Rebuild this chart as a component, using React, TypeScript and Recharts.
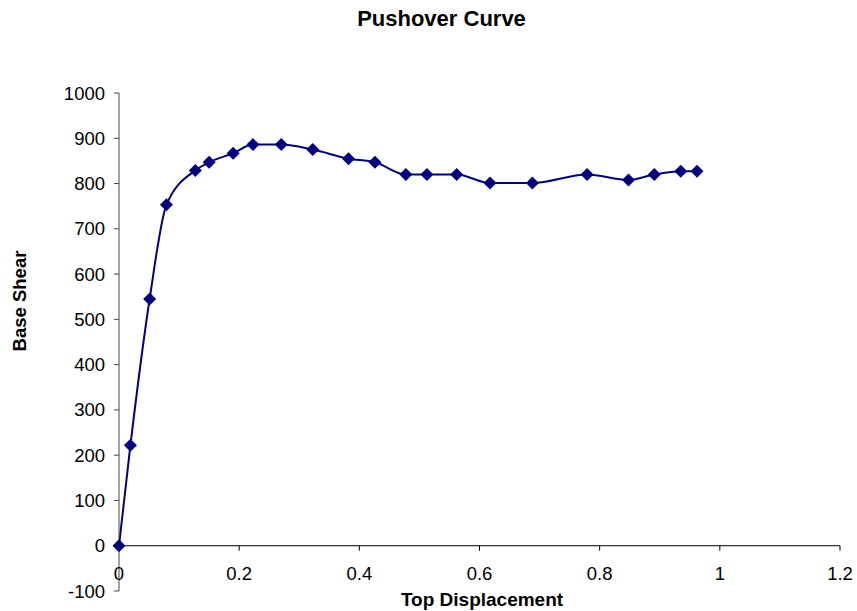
import { LineChart, Line, XAxis, YAxis, ReferenceLine, ReferenceDot } from "recharts";

const displacement = [
  0, 0.019, 0.051, 0.079, 0.127, 0.15, 0.19, 0.223, 0.27, 0.3225, 0.382, 0.426,
  0.4775, 0.5125, 0.562, 0.6175, 0.688, 0.779, 0.848, 0.891, 0.935, 0.962,
];
const baseShear = [
  0, 222, 545, 753, 829, 847, 867, 886, 886, 875, 855, 847, 820, 820, 820, 801,
  801, 820, 808, 820, 827, 827,
];
const xTicks = [0, 0.2, 0.4, 0.6, 0.8, 1, 1.2];
const yTicks = [-100, 0, 100, 200, 300, 400, 500, 600, 700, 800, 900, 1000];

const data = displacement.map((x, i) => ({ x, y: baseShear[i] }));

const FONT = "Arial, 'Liberation Sans', sans-serif";
const NAVY = "#000080";

// diamond marker like Excel
const Diamond = (props: any) => {
  const { cx, cy } = props;
  if (cx == null || cy == null) return null;
  const s = 6.5;
  return (
    <polygon
      points={`${cx},${cy - s} ${cx + s},${cy} ${cx},${cy + s} ${cx - s},${cy}`}
      fill={NAVY}
    />
  );
};

// x axis sits on y=0, so ticks are drawn at (tick, 0)
const XTick = (label: string) => (props: any) => {
  const { cx, cy } = props;
  return (
    <g>
      <line x1={cx} y1={cy} x2={cx} y2={cy + 5} stroke="#000" strokeWidth={1} />
      <text x={cx} y={cy + 34} textAnchor="middle" fontFamily={FONT} fontSize={18.5} fill="#000">
        {label}
      </text>
    </g>
  );
};

export default function App() {
  return (
    <div style={{ position: "absolute", left: 0, top: 0, width: 857, height: 611, background: "#fff" }}>
      <div
        style={{
          position: "absolute",
          left: 0,
          width: 883,
          top: 6,
          textAlign: "center",
          fontFamily: FONT,
          fontWeight: "bold",
          fontSize: 22,
        }}
      >
        Pushover Curve
      </div>
      <div
        style={{
          position: "absolute",
          left: 20,
          top: 301,
          transform: "translate(-50%, -50%) rotate(-90deg)",
          whiteSpace: "nowrap",
          fontFamily: FONT,
          fontWeight: "bold",
          fontSize: 18.5,
        }}
      >
        Base Shear
      </div>
      <div
        style={{
          position: "absolute",
          left: 482,
          top: 600,
          transform: "translate(-50%, -50%)",
          whiteSpace: "nowrap",
          fontFamily: FONT,
          fontWeight: "bold",
          fontSize: 19,
        }}
      >
        Top Displacement
      </div>
      <LineChart
        width={857}
        height={611}
        data={data}
        margin={{ top: 93, right: 17, bottom: 20, left: 0 }}
        style={{ position: "absolute", left: 0, top: 0 }}
      >
        <XAxis type="number" dataKey="x" domain={[0, 1.2]} ticks={xTicks} hide />
        <YAxis
          type="number"
          domain={[-100, 1000]}
          ticks={yTicks}
          width={119}
          interval={0}
          axisLine={{ stroke: "#444" }}
          tickLine={{ stroke: "#444" }}
          tickSize={5}
          tickMargin={9}
          tick={{ fontFamily: FONT, fontSize: 18.5, fill: "#000" }}
        />
        <ReferenceLine y={0} stroke="#000" strokeWidth={1} />
        {xTicks.map((t) => (
          <ReferenceDot key={t} x={t} y={0} r={0} shape={XTick(String(t))} />
        ))}
        <Line
          type="monotone"
          dataKey="y"
          stroke={NAVY}
          strokeWidth={2}
          dot={<Diamond />}
          activeDot={false}
          isAnimationActive={false}
        />
      </LineChart>
    </div>
  );
}
